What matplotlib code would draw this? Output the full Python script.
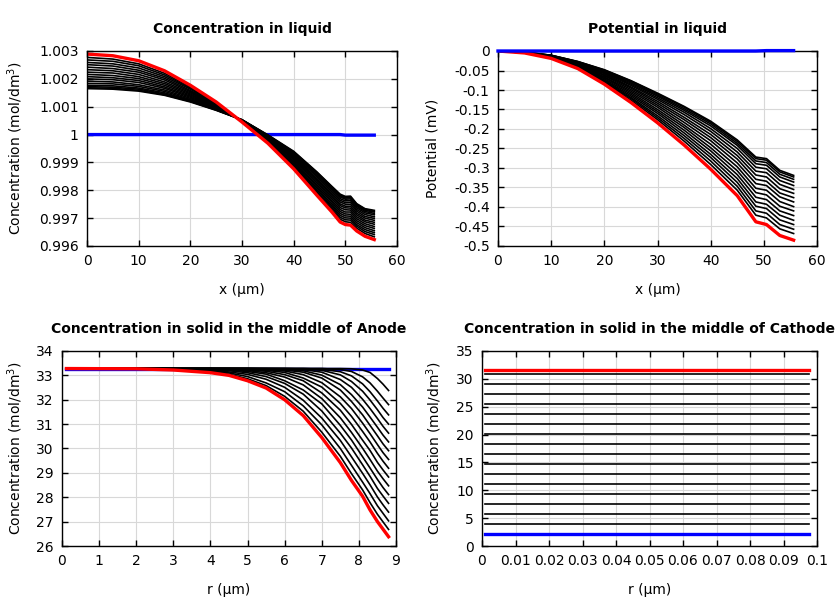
import matplotlib.pyplot as plt
import numpy as np
from matplotlib.ticker import FormatStrFormatter, MultipleLocator

# ---- liquid phase, x in um ----
x_liq = [0, 5, 10, 15, 20, 25, 30, 35, 40, 44.5, 47.4, 49, 50, 51, 52.2, 53.8, 55.6]

# concentration in liquid stored as (c - 1) * 1e5, mol/dm3
c_liq_init = [0, 0, 0, 0, 0, 0, 0, 0, 0, 0, 0, 0, -2, -2, -2, -2, -2]
c_liq_steps = [
    [165, 163, 156, 141, 117, 87, 53, -1, -60, -134, -186, -214, -222, -221, -248, -266, -272],
    [168, 166, 159, 143, 119, 88, 53, -2, -62, -136, -188, -217, -225, -224, -250, -268, -275],
    [172, 170, 163, 146, 121, 89, 53, -3, -64, -139, -192, -220, -228, -227, -254, -272, -278],
    [177, 175, 167, 150, 123, 90, 52, -4, -66, -142, -195, -224, -232, -231, -258, -276, -283],
    [184, 182, 173, 155, 126, 92, 52, -6, -70, -147, -200, -230, -238, -237, -263, -281, -288],
    [192, 189, 179, 160, 130, 93, 51, -8, -74, -152, -206, -236, -244, -243, -269, -287, -295],
    [200, 197, 187, 166, 134, 95, 51, -9, -78, -158, -212, -242, -250, -250, -275, -294, -301],
    [208, 204, 194, 171, 138, 97, 50, -11, -82, -163, -218, -249, -257, -257, -282, -300, -308],
    [216, 212, 201, 177, 142, 99, 50, -13, -86, -168, -224, -255, -263, -264, -288, -307, -315],
    [224, 221, 208, 183, 146, 101, 49, -15, -90, -174, -230, -262, -270, -271, -295, -313, -322],
    [233, 229, 216, 189, 150, 104, 49, -18, -95, -180, -237, -269, -278, -278, -302, -320, -330],
    [242, 237, 224, 196, 154, 106, 48, -20, -99, -186, -243, -276, -285, -286, -309, -327, -337],
    [251, 246, 231, 202, 158, 108, 48, -22, -104, -192, -250, -283, -292, -293, -316, -334, -345],
    [259, 254, 239, 208, 163, 110, 47, -24, -108, -198, -256, -290, -299, -300, -323, -341, -352],
    [268, 263, 247, 214, 167, 112, 46, -26, -112, -204, -262, -297, -306, -307, -329, -348, -359],
    [277, 271, 254, 220, 171, 114, 46, -28, -117, -210, -269, -304, -313, -315, -336, -355, -367],
]
c_liq_final = [289, 283, 265, 229, 177, 117, 45, -31, -123, -218, -278, -314, -323, -325, -346, -365, -377]

# potential in liquid, mV
x_pot = [0, 5, 10, 15, 20, 25, 30, 35, 40, 45, 48.5, 50.5, 53, 55.6]
phi_init = [0, 0, 0, 0, 0, 0, 0, 0, 0, 0, 0, 0.001, 0.001, 0.001]
phi_steps = [
    [0, -.003, -.011, -.027, -.048, -.076, -.108, -.142, -.180, -.228, -.272, -.276, -.306, -.319],
    [0, -.003, -.011, -.027, -.049, -.077, -.110, -.144, -.183, -.232, -.276, -.280, -.310, -.323],
    [0, -.003, -.011, -.028, -.050, -.079, -.113, -.148, -.187, -.237, -.282, -.286, -.316, -.329],
    [0, -.003, -.012, -.029, -.052, -.082, -.116, -.152, -.192, -.242, -.289, -.293, -.323, -.336],
    [0, -.003, -.012, -.030, -.054, -.085, -.120, -.157, -.199, -.250, -.298, -.302, -.332, -.345],
    [0, -.003, -.013, -.031, -.056, -.088, -.124, -.163, -.206, -.259, -.308, -.312, -.342, -.355],
    [0, -.004, -.013, -.032, -.058, -.092, -.129, -.170, -.214, -.268, -.318, -.323, -.353, -.365],
    [0, -.004, -.014, -.033, -.061, -.095, -.134, -.176, -.222, -.277, -.329, -.334, -.364, -.376],
    [0, -.004, -.014, -.034, -.063, -.099, -.139, -.183, -.230, -.287, -.340, -.345, -.374, -.387],
    [0, -.004, -.015, -.036, -.066, -.103, -.144, -.190, -.239, -.297, -.352, -.357, -.386, -.399],
    [0, -.004, -.015, -.037, -.068, -.107, -.150, -.196, -.248, -.307, -.363, -.369, -.398, -.410],
    [0, -.004, -.016, -.038, -.071, -.111, -.155, -.203, -.256, -.317, -.375, -.381, -.410, -.422],
    [0, -.004, -.017, -.039, -.074, -.115, -.160, -.210, -.265, -.327, -.387, -.393, -.421, -.434],
    [0, -.005, -.017, -.041, -.076, -.119, -.166, -.217, -.273, -.337, -.398, -.404, -.433, -.445],
    [0, -.005, -.018, -.042, -.079, -.122, -.171, -.224, -.282, -.347, -.410, -.416, -.445, -.457],
    [0, -.005, -.018, -.043, -.081, -.126, -.176, -.231, -.291, -.357, -.421, -.428, -.456, -.468],
]
phi_final = [0, -.005, -.019, -.045, -.085, -.132, -.184, -.241, -.303, -.371, -.438, -.445, -.473, -.485]
phi_ticks = [0, -0.05, -0.1, -0.15, -0.2, -0.25, -0.3, -0.35, -0.4, -0.45, -0.5]

# ---- solid phase, anode particle, r in um ----
r_an = [0.12, 2, 3, 4, 4.5, 5, 5.5, 6, 6.5, 7, 7.5, 7.8, 8.1, 8.3, 8.5, 8.65, 8.8]
cs_an_init = [33.28] * 17
cs_an_steps = [
    [33.28] * 11 + [33.27, 33.22, 33.12, 32.87, 32.64, 32.38],
    [33.28] * 10 + [33.24, 33.16, 32.94, 32.69, 32.35, 32.07, 31.80],
    [33.28] * 9 + [33.25, 33.15, 32.98, 32.65, 32.33, 31.95, 31.65, 31.38],
    [33.28] * 8 + [33.26, 33.21, 33.02, 32.75, 32.35, 31.99, 31.59, 31.27, 31.00],
    [33.28] * 7 + [33.27, 33.24, 33.13, 32.83, 32.51, 32.02, 31.64, 31.23, 30.91, 30.63],
    [33.28] * 6 + [33.27, 33.25, 33.19, 33.01, 32.62, 32.21, 31.70, 31.29, 30.87, 30.55, 30.27],
    [33.28] * 6 + [33.26, 33.22, 33.13, 32.89, 32.40, 31.93, 31.38, 30.95, 30.52, 30.19, 29.91],
    [33.28] * 5 + [33.27, 33.24, 33.18, 33.03, 32.70, 32.12, 31.64, 31.04, 30.61, 30.16, 29.83, 29.55],
    [33.28] * 4 + [33.27, 33.25, 33.21, 33.12, 32.89, 32.52, 31.85, 31.32, 30.70, 30.27, 29.80, 29.48, 29.19],
    [33.28] * 3 + [33.27, 33.25, 33.23, 33.17, 33.03, 32.78, 32.28, 31.57, 30.99, 30.34, 29.92, 29.43, 29.12, 28.83],
    [33.28, 33.28, 33.28, 33.27, 33.24, 33.20, 33.11, 32.93, 32.61, 32.05, 31.26, 30.66, 30.01, 29.55, 29.07, 28.76, 28.47],
    [33.28, 33.28, 33.27, 33.25, 33.22, 33.16, 33.05, 32.78, 32.40, 31.83, 30.95, 30.35, 29.66, 29.20, 28.73, 28.40, 28.11],
    [33.28, 33.28, 33.27, 33.23, 33.19, 33.11, 32.95, 32.67, 32.23, 31.54, 30.63, 30.02, 29.33, 28.86, 28.36, 28.05, 27.75],
    [33.28, 33.27, 33.26, 33.21, 33.14, 33.04, 32.84, 32.51, 31.98, 31.25, 30.33, 29.66, 28.98, 28.51, 28.01, 27.69, 27.39],
    [33.28, 33.27, 33.25, 33.18, 33.10, 32.95, 32.69, 32.33, 31.75, 30.97, 30.00, 29.31, 28.62, 28.15, 27.65, 27.34, 27.03],
    [33.28, 33.27, 33.23, 33.14, 33.05, 32.86, 32.58, 32.14, 31.53, 30.67, 29.68, 28.97, 28.30, 27.78, 27.30, 26.99, 26.68],
]
cs_an_final = [33.28, 33.27, 33.22, 33.11, 33.00, 32.78, 32.48, 32.00, 31.35, 30.45, 29.42, 28.69, 28.04, 27.48, 27.00, 26.69, 26.38]

# ---- solid phase, cathode particle (flat profiles) ----
r_ca = [0.001, 0.0975]
cs_ca_init = 2.15
cs_ca_steps = [3.95, 5.75, 7.54, 9.34, 11.13, 12.93, 14.72, 16.52,
               18.31, 20.11, 21.90, 23.70, 25.49, 27.29, 29.08, 30.88]
cs_ca_final = 31.6

BLUE = '#0000ff'
RED = '#ff0000'


def style(ax, title, xlabel, ylabel, ylab_x):
    ax.set_title(title, fontsize=10, fontweight='bold', pad=13)
    ax.set_xlabel(xlabel, fontsize=10)
    ax.set_ylabel(ylabel, fontsize=10)
    ax.xaxis.set_label_coords(0.5, -0.19)
    ax.yaxis.set_label_coords(ylab_x, 0.5)
    ax.grid(True, color='#d8d8d8', linewidth=0.8)
    ax.set_axisbelow(True)
    ax.tick_params(direction='in', top=True, right=True, length=4, width=1,
                   labelsize=10, pad=6, colors='black')
    for s in ax.spines.values():
        s.set_linewidth(1.0)
    ax.xaxis.set_major_formatter(FormatStrFormatter('%g'))
    ax.yaxis.set_major_formatter(FormatStrFormatter('%g'))


fig = plt.figure(figsize=(8.4, 6), dpi=100)
ax1 = fig.add_axes([87 / 840, 1 - 246 / 600, 310 / 840, 195 / 600])
ax2 = fig.add_axes([498 / 840, 1 - 246 / 600, 319 / 840, 195 / 600])
ax3 = fig.add_axes([62 / 840, 1 - 546 / 600, 334 / 840, 195 / 600])
ax4 = fig.add_axes([482 / 840, 1 - 546 / 600, 335 / 840, 195 / 600])

# concentration in liquid
ax1.plot(x_liq, 1 + np.array(c_liq_init) * 1e-5, color=BLUE, lw=2.4)
for row in c_liq_steps:
    ax1.plot(x_liq, 1 + np.array(row) * 1e-5, color='black', lw=1.2)
ax1.plot(x_liq, 1 + np.array(c_liq_final) * 1e-5, color=RED, lw=2.4)
ax1.set_xlim(0, 60)
ax1.set_ylim(0.996, 1.003)
ax1.xaxis.set_major_locator(MultipleLocator(10))
ax1.yaxis.set_major_locator(MultipleLocator(0.001))
style(ax1, 'Concentration in liquid', 'x (µm)', 'Concentration (mol/dm$^3$)', -0.20)

# potential in liquid
ax2.plot(x_pot, phi_init, color=BLUE, lw=2.4, clip_on=False, zorder=3)
for row in phi_steps:
    ax2.plot(x_pot, row, color='black', lw=1.2)
ax2.plot(x_pot, phi_final, color=RED, lw=2.4)
ax2.set_xlim(0, 60)
ax2.set_ylim(-0.5, 0)
ax2.set_yticks(phi_ticks)
ax2.xaxis.set_major_locator(MultipleLocator(10))
style(ax2, 'Potential in liquid', 'x (µm)', 'Potential (mV)', -0.182)

# anode solid
ax3.plot(r_an, cs_an_init, color=BLUE, lw=2.4)
for row in cs_an_steps:
    ax3.plot(r_an, row, color='black', lw=1.2)
ax3.plot(r_an, cs_an_final, color=RED, lw=2.4)
ax3.set_xlim(0, 9)
ax3.set_ylim(26, 34)
ax3.xaxis.set_major_locator(MultipleLocator(1))
ax3.yaxis.set_major_locator(MultipleLocator(1))
style(ax3, 'Concentration in solid in the middle of Anode', 'r (µm)',
      'Concentration (mol/dm$^3$)', -0.111)

# cathode solid
ax4.plot(r_ca, [cs_ca_init] * 2, color=BLUE, lw=2.4)
for v in cs_ca_steps:
    ax4.plot(r_ca, [v] * 2, color='black', lw=1.2)
ax4.plot(r_ca, [cs_ca_final] * 2, color=RED, lw=2.4)
ax4.set_xlim(0, 0.1)
ax4.set_ylim(0, 35)
ax4.xaxis.set_major_locator(MultipleLocator(0.01))
ax4.yaxis.set_major_locator(MultipleLocator(5))
style(ax4, 'Concentration in solid in the middle of Cathode', 'r (µm)',
      'Concentration (mol/dm$^3$)', -0.113)

fig.savefig('out.png', dpi=100)
